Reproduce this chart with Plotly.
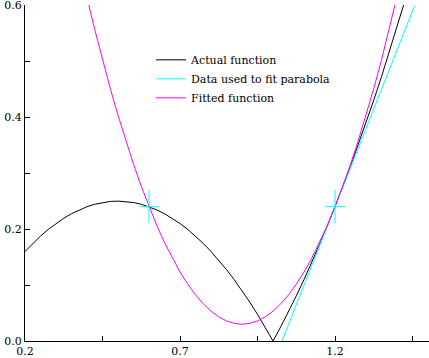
import plotly.graph_objects as go

# Actual function (black)
x_actual = [0.200, 0.225, 0.250, 0.275, 0.300, 0.325, 0.350, 0.375, 0.400, 0.425,
            0.450, 0.475, 0.500, 0.525, 0.550, 0.575, 0.600, 0.625, 0.650, 0.675,
            0.700, 0.725, 0.750, 0.775, 0.800, 0.825, 0.850, 0.875, 0.900, 0.925,
            0.950, 0.975, 1.000, 1.025, 1.050, 1.075, 1.100, 1.125, 1.150, 1.175,
            1.200, 1.225, 1.250, 1.275, 1.300, 1.325, 1.350, 1.375, 1.400, 1.425,
            1.450]
y_actual = [0.1600, 0.1744, 0.1875, 0.1994, 0.2100, 0.2194, 0.2275, 0.2344, 0.2400, 0.2444,
            0.2475, 0.2494, 0.2500, 0.2494, 0.2475, 0.2444, 0.2400, 0.2344, 0.2275, 0.2194,
            0.2100, 0.1994, 0.1875, 0.1744, 0.1600, 0.1444, 0.1275, 0.1094, 0.0900, 0.0694,
            0.0475, 0.0244, 0.0000, 0.0256, 0.0525, 0.0806, 0.1100, 0.1406, 0.1725, 0.2056,
            0.2400, 0.2756, 0.3125, 0.3506, 0.3900, 0.4306, 0.4725, 0.5156, 0.5600, 0.6056,
            0.6525]

# Fitted parabola (magenta)
x_fit = [0.350, 0.375, 0.400, 0.425, 0.450, 0.475, 0.500, 0.525, 0.550, 0.575,
         0.600, 0.625, 0.650, 0.675, 0.700, 0.725, 0.750, 0.775, 0.800, 0.825,
         0.850, 0.875, 0.900, 0.925, 0.950, 0.975, 1.000, 1.025, 1.050, 1.075,
         1.100, 1.125, 1.150, 1.175, 1.200, 1.225, 1.250, 1.275, 1.300, 1.325,
         1.350, 1.375, 1.400, 1.425]
y_fit = [0.7358, 0.6731, 0.6133, 0.5565, 0.5025, 0.4515, 0.4033, 0.3581, 0.3158, 0.2765,
         0.2400, 0.2065, 0.1758, 0.1481, 0.1233, 0.1015, 0.0825, 0.0665, 0.0533, 0.0431,
         0.0358, 0.0315, 0.0300, 0.0315, 0.0358, 0.0431, 0.0533, 0.0665, 0.0825, 0.1015,
         0.1233, 0.1481, 0.1758, 0.2065, 0.2400, 0.2765, 0.3158, 0.3581, 0.4033, 0.4515,
         0.5025, 0.5565, 0.6133, 0.6731]

# Data used to fit parabola (cyan): slope line and points
x_slope = [1.0286, 1.4571]
y_slope = [0.0, 0.6]
x_data = [0.6, 1.2]
y_data = [0.24, 0.24]
err_x = [0.032, 0.032]
err_y = [0.03, 0.03]

x_tickvals = [0.2, 0.7, 1.2]
y_tickvals = [0.0, 0.2, 0.4, 0.6]

BLACK = "#000000"
CYAN = "#00ffff"
MAGENTA = "#ff00ff"
FONT = "DejaVu Serif"

fig = go.Figure()
fig.add_trace(go.Scatter(x=x_actual, y=y_actual, mode="lines",
                         line=dict(color=BLACK, width=1), name="Actual function"))
fig.add_trace(go.Scatter(x=x_slope, y=y_slope, mode="lines",
                         line=dict(color=CYAN, width=1), name="Data used to fit parabola"))
fig.add_trace(go.Scatter(x=x_fit, y=y_fit, mode="lines",
                         line=dict(color=MAGENTA, width=1), name="Fitted function"))
fig.add_trace(go.Scatter(x=x_data, y=y_data, mode="markers",
                         marker=dict(color="rgba(0,0,0,0)", size=1),
                         error_x=dict(type="data", array=err_x, color=CYAN, thickness=1, width=0),
                         error_y=dict(type="data", array=err_y, color=CYAN, thickness=1, width=0),
                         showlegend=False, hoverinfo="skip"))

fig.update_layout(
    width=429, height=358,
    margin=dict(l=25, r=0, t=5, b=17, autoexpand=False),
    paper_bgcolor="white", plot_bgcolor="white",
    font=dict(family=FONT, size=11, color="black"),
    legend=dict(x=0.312, y=0.88, xanchor="left", yanchor="top",
                bgcolor="rgba(0,0,0,0)", font=dict(family=FONT, size=11),
                tracegroupgap=0, itemwidth=30),
)
fig.update_xaxes(range=[0.2, 1.503], tickvals=x_tickvals, ticktext=["0.2", "0.7", "1.2"],
                 ticks="inside", ticklen=5, tickcolor="black", automargin=False,
                 ticklabeloverflow="allow",
                 minor=dict(ticks="inside", ticklen=5, dtick=0.25, tick0=0.2, tickcolor="black"),
                 showline=True, linecolor="black", linewidth=1, showgrid=False, zeroline=False,
                 tickfont=dict(family=FONT, size=11))
fig.update_yaxes(range=[0, 0.6005], tickvals=y_tickvals, ticktext=["0.0", "0.2", "0.4", "0.6"],
                 ticks="inside", ticklen=5, tickcolor="black", automargin=False,
                 ticklabeloverflow="allow",
                 minor=dict(ticks="inside", ticklen=5, dtick=0.1, tick0=0, tickcolor="black"),
                 showline=True, linecolor="black", linewidth=1, showgrid=False, zeroline=False,
                 tickfont=dict(family=FONT, size=11))

fig.write_html("out.html", config={"displayModeBar": False},
               post_script="document.body.style.margin='0';")
